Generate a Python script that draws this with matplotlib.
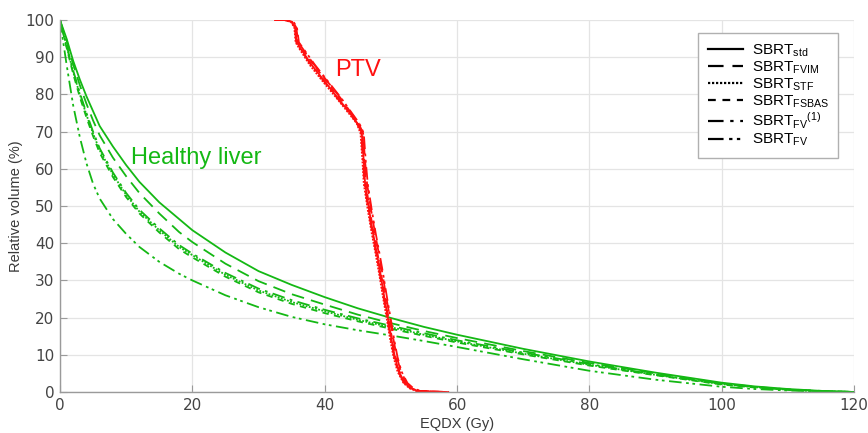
import matplotlib
matplotlib.use("Agg")
import matplotlib.pyplot as plt
from matplotlib.lines import Line2D

# ---- Dose-volume histogram data ----
plans = ["std", "FVIM", "STF", "FSBAS", "FV(1)", "FV"]
legend_labels = [
    r"SBRT$_{\mathregular{std}}$",
    r"SBRT$_{\mathregular{FVIM}}$",
    r"SBRT$_{\mathregular{STF}}$",
    r"SBRT$_{\mathregular{FSBAS}}$",
    r"SBRT$_{\mathregular{FV}}$$^{\mathregular{(1)}}$",
    r"SBRT$_{\mathregular{FV}}$",
]

# Healthy liver: dose (Gy) and relative volume (%) per plan
liver_dose = [0, 0.5, 1, 2, 3, 4, 5, 6, 8, 10, 12, 15, 18, 20, 25, 30, 35, 40,
              45, 50, 55, 60, 70, 80, 90, 100, 105, 110, 115, 120]
liver_std = [100, 97.5, 95, 89, 84, 79.5, 75.5, 71.5, 66, 61, 56.5, 51, 46.5,
             43.5, 37.5, 32.5, 28.8, 25.5, 22.5, 19.9, 17.5, 15.4, 11.6, 8.2,
             5.2, 2.5, 1.5, 0.8, 0.3, 0]
liver_fvim = [100, 97, 94.5, 88, 82.5, 77.5, 73, 69, 63, 58, 53.5, 48, 43,
              40.3, 34.5, 29.8, 26.3, 23.5, 20.8, 18.5, 16.4, 14.5, 11, 7.8,
              5, 2.3, 1.4, 0.7, 0.3, 0]
liver_stf = [100, 96.5, 93, 86, 80, 74.5, 69.5, 65, 58.5, 53, 48.5, 43.5, 39,
             36.8, 31.5, 27.3, 24.2, 21.7, 19.4, 17.4, 15.4, 13.6, 10.3, 7.3,
             4.6, 2.1, 1.3, 0.6, 0.2, 0]
liver_fsbas = [100, 96.3, 92.6, 85.5, 79.3, 73.8, 68.8, 64.3, 57.8, 52.4, 48,
               42.9, 38.4, 36.2, 31, 26.8, 23.7, 21.2, 19, 17, 15.1, 13.3,
               10.1, 7.1, 4.5, 2, 1.2, 0.6, 0.2, 0]
liver_fv1 = [100, 96.6, 93.2, 86.4, 80.4, 75, 70, 65.5, 59, 53.5, 49, 44,
             39.5, 37.2, 32, 27.8, 24.7, 22.1, 19.8, 17.8, 15.8, 13.9, 10.6,
             7.5, 4.7, 2.2, 1.3, 0.6, 0.2, 0]
liver_fv = [100, 94, 88, 77, 68.5, 61.5, 56, 52, 46.5, 42.5, 39, 35, 31.8, 30,
            26, 22.8, 20.2, 18.2, 16.6, 15.2, 13.7, 12.1, 8.8, 5.7, 3.3, 1.4,
            0.8, 0.4, 0.15, 0]

# PTV: relative volume (%) sampled at the dose points of each plan
ptv_volume = [100, 100, 99.5, 98, 94, 92.5, 88, 83.5, 79, 75, 72.3, 69.6, 62,
              56, 49, 42.7, 37, 32, 25.5, 19.4, 14, 9.4, 5.5, 2.4, 1, 0.3, 0.1, 0]
ptv_std = [32.5, 34.0, 35.0, 35.5, 35.8, 36.3, 38.0, 40.0, 42.0, 43.8, 44.9,
           45.6, 45.9, 46.1, 46.7, 47.3, 47.9, 48.4, 49.0, 49.6, 50.1, 50.6,
           51.2, 52.1, 53.0, 54.0, 56.0, 58.0]
ptv_fvim = [32.7, 34.2, 35.2, 35.7, 36.0, 36.6, 38.4, 40.4, 42.4, 44.0, 45.1,
            45.8, 46.1, 46.4, 47.0, 47.6, 48.2, 48.7, 49.3, 49.9, 50.4, 50.9,
            51.5, 52.4, 53.3, 54.3, 56.5, 58.5]
ptv_stf = [32.4, 33.9, 34.9, 35.4, 35.6, 36.1, 37.7, 39.7, 41.8, 43.6, 44.8,
           45.4, 45.7, 45.9, 46.5, 47.1, 47.7, 48.2, 48.8, 49.4, 49.9, 50.4,
           51.0, 51.9, 52.8, 53.8, 55.5, 57.5]
ptv_fsbas = [32.6, 34.1, 35.1, 35.6, 35.9, 36.5, 38.3, 40.3, 42.2, 43.9, 45.0,
             45.7, 46.0, 46.2, 46.8, 47.4, 48.0, 48.5, 49.1, 49.7, 50.2, 50.7,
             51.3, 52.2, 53.1, 54.1, 56.2, 58.2]
ptv_fv1 = [32.5, 34.0, 35.0, 35.5, 35.7, 36.2, 37.9, 39.9, 41.9, 43.7, 44.9,
           45.5, 45.8, 46.0, 46.6, 47.2, 47.8, 48.3, 48.9, 49.5, 50.0, 50.5,
           51.1, 52.0, 52.9, 53.9, 55.8, 57.8]
ptv_fv = [32.8, 34.3, 35.3, 35.8, 36.1, 36.7, 38.5, 40.5, 42.5, 44.1, 45.2,
          45.9, 46.2, 46.5, 47.1, 47.7, 48.3, 48.8, 49.4, 50.0, 50.5, 51.0,
          51.6, 52.5, 53.4, 54.4, 56.8, 58.8]

liver_curves = [liver_std, liver_fvim, liver_stf, liver_fsbas, liver_fv1, liver_fv]
ptv_curves = [ptv_std, ptv_fvim, ptv_stf, ptv_fsbas, ptv_fv1, ptv_fv]

x_ticks = [0, 20, 40, 60, 80, 100, 120]
y_ticks = [0, 10, 20, 30, 40, 50, 60, 70, 80, 90, 100]

# ---- Styling ----
GREEN = "#14b814"
RED = "#ff1010"
styles = [
    "-",
    (0, (7, 4)),
    (0, (1, 0.8)),
    (0, (3.5, 3)),
    (0, (7, 3, 1.5, 3)),
    (0, (7, 2.5, 1.5, 2, 1.5, 2.5)),
]

plt.rcParams["font.family"] = ["Liberation Sans", "DejaVu Sans"]
plt.rcParams["mathtext.default"] = "regular"

fig = plt.figure(figsize=(8.68, 4.33), dpi=100)
ax = fig.add_axes([0.0691, 0.0947, 0.915, 0.859])

for vol, ls in zip(liver_curves, styles):
    ax.plot(liver_dose, vol, color=GREEN, lw=1.3, linestyle=ls)
for dose, ls in zip(ptv_curves, styles):
    ax.plot(dose, ptv_volume, color=RED, lw=1.3, linestyle=ls)

ax.set_xlim(0, 120)
ax.set_ylim(0, 100)
ax.set_xticks(x_ticks)
ax.set_yticks(y_ticks)
ax.grid(True, color="#e4e4e4", lw=0.9)
ax.set_axisbelow(True)
for side in ("top", "right"):
    ax.spines[side].set_visible(False)
for side in ("left", "bottom"):
    ax.spines[side].set_color("#9a9a9a")
    ax.spines[side].set_linewidth(1.0)
ax.tick_params(direction="in", length=5, color="#9a9a9a", labelsize=11,
               labelcolor="#444444", pad=4)
for lab in ax.get_xticklabels() + ax.get_yticklabels():
    lab.set_fontfamily("DejaVu Sans")

ax.set_xlabel("EQDX (Gy)", fontsize=10.5, color="#3a3a3a", labelpad=3)
ax.set_ylabel("Relative volume (%)", fontsize=10.5, color="#3a3a3a", labelpad=2)

ax.text(41.6, 86.6, "PTV", color=RED, fontsize=17, va="center", ha="left")
ax.text(10.7, 63.0, "Healthy liver", color=GREEN, fontsize=17, va="center", ha="left")

handles = [Line2D([0], [0], color="black", lw=1.6, linestyle=ls) for ls in styles]
leg = ax.legend(handles, legend_labels, loc="upper right",
                bbox_to_anchor=(0.98, 0.965), borderaxespad=0.0,
                fontsize=11, handlelength=2.3, labelspacing=0.05,
                borderpad=0.6, handletextpad=0.6,
                fancybox=False, framealpha=1)
leg.get_frame().set_edgecolor("#b0b0b0")
leg.get_frame().set_linewidth(1.0)

fig.savefig("out.png", dpi=100)
